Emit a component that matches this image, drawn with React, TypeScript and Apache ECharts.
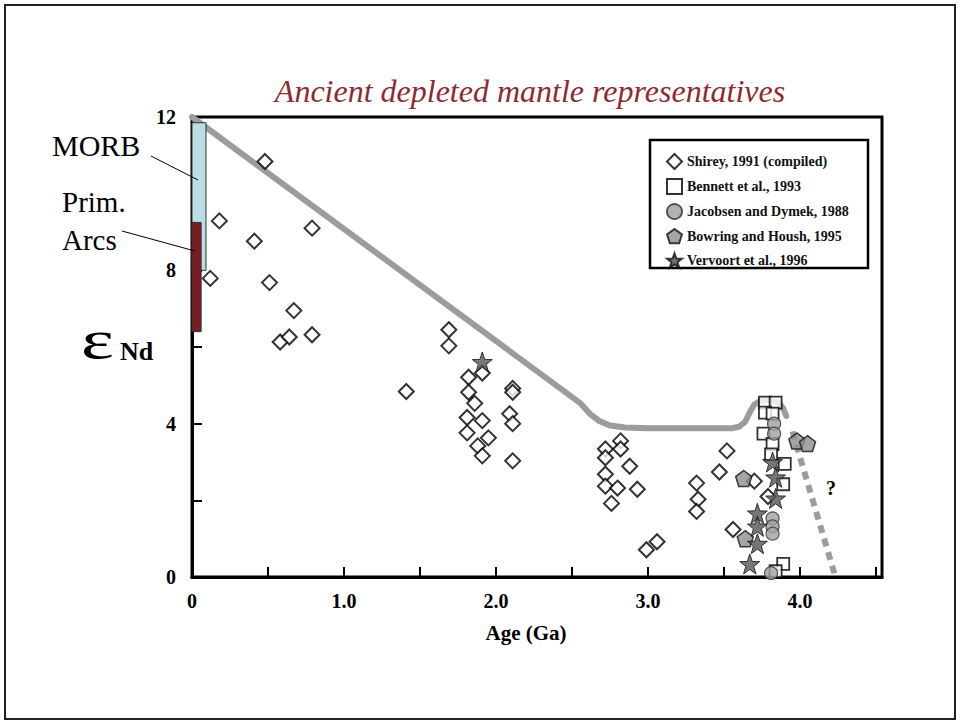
import React, { useEffect, useRef } from "react";
import * as echarts from "echarts";

const TITLE = "Ancient depleted mantle representatives";
const X_NAME = "Age (Ga)";

const SHIREY: number[][] = [
  [0.48, 10.84], [0.18, 9.29], [0.41, 8.76], [0.79, 9.1], [0.12, 7.79], [0.51, 7.68],
  [0.67, 6.95], [0.58, 6.13], [0.64, 6.26], [0.79, 6.32], [1.41, 4.84], [1.69, 6.45],
  [1.69, 6.03], [1.82, 5.21], [1.91, 5.32], [1.82, 4.82], [1.86, 4.53], [1.81, 4.16],
  [1.91, 4.08], [1.81, 3.76], [1.95, 3.63], [1.88, 3.42], [1.91, 3.16], [2.11, 4.92],
  [2.11, 4.82], [2.09, 4.26], [2.11, 4.0], [2.11, 3.03], [2.72, 3.34], [2.82, 3.55],
  [2.82, 3.34], [2.72, 3.11], [2.72, 2.68], [2.72, 2.37], [2.8, 2.32], [2.88, 2.89],
  [2.93, 2.29], [2.76, 1.92], [3.32, 2.45], [3.33, 2.03], [3.32, 1.71], [2.99, 0.71],
  [3.06, 0.92], [3.52, 3.29], [3.47, 2.74], [3.7, 2.5], [3.79, 2.1], [3.56, 1.24],
];
const BENNETT: number[][] = [
  [3.77, 4.55], [3.84, 4.55], [3.77, 4.29], [3.82, 4.26], [3.76, 3.74], [3.82, 3.47],
  [3.81, 3.2], [3.9, 2.95], [3.89, 2.42], [3.89, 0.34], [3.84, 0.15],
];
const JACOBSEN: number[][] = [
  [3.83, 4.0], [3.83, 3.74], [3.82, 1.53], [3.82, 1.32], [3.82, 1.13], [3.81, 0.1],
];
const BOWRING: number[][] = [
  [3.98, 3.55], [4.05, 3.48], [3.63, 2.57], [3.64, 1.0],
];
const VERVOORT: number[][] = [
  [1.91, 5.61], [3.82, 3.0], [3.84, 2.6], [3.84, 2.05], [3.72, 1.66], [3.72, 1.32],
  [3.72, 0.87], [3.67, 0.34],
];

const DM_AGE = [0, 2.55, 2.62, 2.68, 2.75, 2.85, 3.0, 3.55, 3.6, 3.64, 3.67, 3.7, 3.74, 3.8, 3.86, 3.89, 3.91];
const DM_END = [12, 4.55, 4.25, 4.07, 3.95, 3.9, 3.88, 3.88, 3.92, 4.05, 4.3, 4.5, 4.6, 4.62, 4.55, 4.4, 4.2];
const DASH_AGE = [3.95, 4.23];
const DASH_END = [3.8, 0.05];

// [ageStart, ageEnd, epsLow, epsHigh]
const MORB_RANGE = [0, 0.092, 8.0, 11.85];
const ARCS_RANGE = [0, 0.06, 6.4, 9.25];

const LEGEND_NAMES = [
  "Shirey, 1991 (compiled)",
  "Bennett et al., 1993",
  "Jacobsen and Dymek, 1988",
  "Bowring and Housh, 1995",
  "Vervoort et al., 1996",
];

const STAR = "path://M0,-10 L2.35,-3.24 L9.51,-3.09 L3.80,1.24 L5.88,8.09 L0,4 L-5.88,8.09 L-3.80,1.24 L-9.51,-3.09 L-2.35,-3.24 Z";
const PENTA = "path://M0,-10 L9.51,-3.09 L5.88,8.09 L-5.88,8.09 L-9.51,-3.09 Z";

const SERIF = "'Liberation Serif', 'Times New Roman', serif";

export default function App() {
  const ref = useRef<HTMLDivElement>(null);
  useEffect(() => {
    if (!ref.current) return;
    const chart = echarts.init(ref.current, null, { renderer: "svg" });
    const rangeColors = ["#b8dfe3", "#7b1c24"];
    const option: any = {
      animation: false,
      backgroundColor: "#ffffff",
      title: {
        text: TITLE,
        left: 525,
        top: 70,
        textAlign: "center",
        textStyle: { fontFamily: SERIF, fontStyle: "italic", fontWeight: "normal", fontSize: 32, color: "#8e2a35" },
      },
      legend: {
        data: LEGEND_NAMES,
        orient: "vertical",
        left: 661,
        top: 148,
        itemWidth: 15,
        itemHeight: 15,
        itemGap: 8,
        textStyle: { fontFamily: SERIF, fontWeight: "bold", fontSize: 14, color: "#111" },
      },
      grid: { left: 192, right: 78, top: 117, bottom: 147, show: true, borderColor: "#000", borderWidth: 3 },
      xAxis: {
        type: "value",
        min: 0,
        max: 4.54,
        interval: 0.5,
        splitLine: { show: false },
        axisLine: { lineStyle: { color: "#000", width: 3 } },
        axisTick: { inside: true, length: 10, lineStyle: { color: "#000", width: 2 } },
        axisLabel: {
          margin: 14,
          fontFamily: SERIF,
          fontWeight: "bold",
          fontSize: 20,
          color: "#000",
          showMaxLabel: false,
          formatter: (v: number) => (v === 0 ? "0" : Number.isInteger(v) ? v.toFixed(1) : ""),
        },
      },
      yAxis: {
        type: "value",
        min: 0,
        max: 12,
        interval: 2,
        splitLine: { show: false },
        axisLine: { lineStyle: { color: "#000", width: 3 } },
        axisTick: { inside: true, length: 10, lineStyle: { color: "#000", width: 2 } },
        axisLabel: {
          margin: 16,
          fontFamily: SERIF,
          fontWeight: "bold",
          fontSize: 20,
          color: "#000",
          formatter: (v: number) => (v % 4 === 0 ? String(v) : ""),
        },
      },
      graphic: [
        { type: "rect", shape: { x: 5, y: 5, width: 950, height: 714 }, style: { fill: "none", stroke: "#222", lineWidth: 2 }, z: 0 },
        { type: "rect", shape: { x: 650, y: 140, width: 218, height: 128 }, style: { fill: "#fff", stroke: "#000", lineWidth: 2.5 }, z: 0 },
        { type: "text", x: 52, y: 145, style: { text: "MORB", font: `30px ${SERIF}`, fill: "#000", verticalAlign: "middle" } },
        { type: "text", x: 62, y: 202, style: { text: "Prim.", font: `29px ${SERIF}`, fill: "#000", verticalAlign: "middle" } },
        { type: "text", x: 62, y: 240, style: { text: "Arcs", font: `29px ${SERIF}`, fill: "#000", verticalAlign: "middle" } },
        { type: "line", shape: { x1: 151, y1: 156, x2: 198, y2: 180 }, style: { stroke: "#000", lineWidth: 1 }, z: 10 },
        { type: "line", shape: { x1: 122, y1: 231, x2: 195, y2: 251 }, style: { stroke: "#000", lineWidth: 1 }, z: 10 },
        { type: "text", x: 81, y: 340, scaleX: 1.45, style: { text: "ε", font: `54px ${SERIF}`, fill: "#000", verticalAlign: "middle" } },
        { type: "text", x: 120, y: 351, style: { text: "Nd", font: `bold 26px ${SERIF}`, fill: "#000", verticalAlign: "middle" } },
        { type: "text", x: 826, y: 488, style: { text: "?", font: `bold 20px ${SERIF}`, fill: "#000", verticalAlign: "middle" } },
        { type: "text", x: 526, y: 633, style: { text: X_NAME, font: `bold 21px ${SERIF}`, fill: "#000", align: "center", verticalAlign: "middle" } },
      ],
      series: [
        {
          type: "line",
          data: DM_AGE.map((a, i) => [a, DM_END[i]]),
          showSymbol: false,
          lineStyle: { color: "#9c9c9c", width: 6, cap: "round", join: "round" },
          z: 1,
          silent: true,
        },
        {
          type: "line",
          data: DASH_AGE.map((a, i) => [a, DASH_END[i]]),
          showSymbol: false,
          lineStyle: { color: "#9c9c9c", width: 6, type: [8, 6] },
          z: 1,
          silent: true,
        },
        {
          type: "custom",
          data: [MORB_RANGE, ARCS_RANGE],
          encode: { x: [0, 1], y: [2, 3] },
          z: 3,
          renderItem: (params: any, api: any) => {
            const p0 = api.coord([api.value(0), api.value(3)]);
            const p1 = api.coord([api.value(1), api.value(2)]);
            return {
              type: "rect",
              shape: { x: p0[0], y: p0[1], width: p1[0] - p0[0], height: p1[1] - p0[1] },
              style: { fill: rangeColors[params.dataIndex], stroke: "#333", lineWidth: 1 },
            };
          },
        },
        {
          name: LEGEND_NAMES[0], type: "scatter", data: SHIREY, symbol: "diamond", symbolSize: 15, z: 4,
          itemStyle: { color: "#fff", borderColor: "#000", borderWidth: 2 },
        },
        {
          name: LEGEND_NAMES[1], type: "scatter", data: BENNETT, symbol: "rect", symbolSize: 12, z: 5,
          itemStyle: { color: "#fff", borderColor: "#000", borderWidth: 1.8 },
        },
        {
          name: LEGEND_NAMES[2], type: "scatter", data: JACOBSEN, symbol: "circle", symbolSize: 13, z: 6,
          itemStyle: { color: "#a0a0a0", borderColor: "#333", borderWidth: 1.2 },
        },
        {
          name: LEGEND_NAMES[3], type: "scatter", data: BOWRING, symbol: PENTA, symbolSize: 16, z: 7,
          itemStyle: { color: "#8e8e8e", borderColor: "#111", borderWidth: 1.5 },
        },
        {
          name: LEGEND_NAMES[4], type: "scatter", data: VERVOORT, symbol: STAR, symbolSize: 20, z: 8,
          itemStyle: { color: "#555", borderColor: "#111", borderWidth: 1 },
        },
      ],
    };
    chart.setOption(option);
    return () => chart.dispose();
  }, []);
  return <div ref={ref} style={{ position: "absolute", left: 0, top: 0, width: 960, height: 724 }} />;
}
